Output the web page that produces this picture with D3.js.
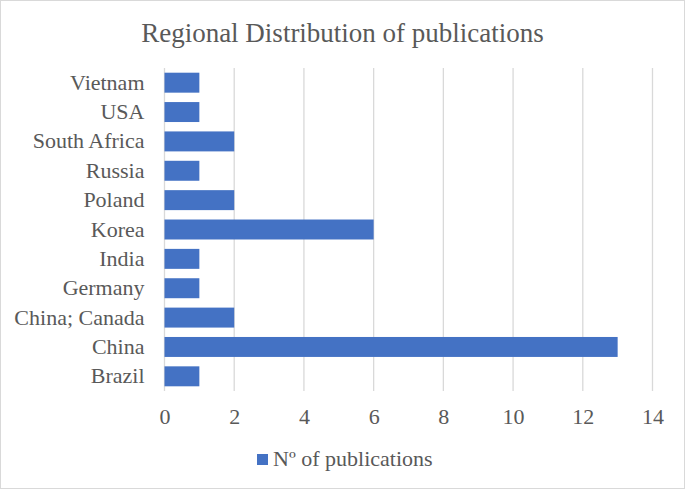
<!DOCTYPE html>
<html>
<head>
<meta charset="utf-8">
<script src="https://cdn.jsdelivr.net/npm/d3@7"></script>
<style>
body{margin:0;background:#fff;}
svg text{font-family:"Liberation Serif","Times New Roman",Times,serif !important;fill:#595959;}
</style>
</head>
<body>
<svg id="Viz"></svg>
<script>
// data, top to bottom as shown
let countries=["Vietnam","USA","South Africa","Russia","Poland","Korea","India","Germany","China; Canada","China","Brazil"];
let pubs=[1,1,2,1,2,6,1,1,2,13,1];
let xTicks=[0,2,4,6,8,10,12,14];
let seriesName="N\u00BA of publications";

let Width=685, Height=489;
let margin={top:68, right:32, bottom:98, left:164.5};

let vizArea=d3.select('#Viz')
.attr("width", Width)
.attr("height", Height);

// outer border
vizArea.append("rect")
.attr("x",0.5).attr("y",0.5)
.attr("width",Width-1).attr("height",Height-1)
.attr("fill","#fff")
.attr("stroke","#d9d9d9");

vizArea.append("text")
.attr("x", Width/2)
.attr("y", 42)
.attr("text-anchor","middle")
.style("font-size","27px")
.text("Regional Distribution of publications");

let xScale=d3.scaleLinear().domain([0,14]).range([margin.left, 652.5]);
let yScale=d3.scaleBand().domain(countries).range([margin.top, 391]).paddingInner(0.32).paddingOuter(0.16);

// gridlines
vizArea.append("g")
.selectAll("line")
.data(xTicks)
.enter()
.append("line")
.attr("x1", d=>xScale(d)).attr("x2", d=>xScale(d))
.attr("y1", margin.top).attr("y2", 391)
.attr("stroke","#d9d9d9")
.attr("stroke-width",1.3);

// bars
vizArea.append("g")
.selectAll("rect")
.data(countries)
.enter()
.append("rect")
.attr("x", xScale(0))
.attr("y", d=>yScale(d))
.attr("width", (d,i)=>xScale(pubs[i])-xScale(0))
.attr("height", yScale.bandwidth())
.attr("fill","#4472C4");

// x axis
let xAxis=vizArea.append("g")
.attr("transform","translate(0,391)")
.call(d3.axisBottom(xScale).tickValues(xTicks).tickSize(0).tickPadding(17));
xAxis.select(".domain").remove();
xAxis.selectAll("text")
.attr("fill","#595959")
.style("font-size","22px");

// y axis
let yAxis=vizArea.append("g")
.attr("transform","translate("+margin.left+",0)")
.call(d3.axisLeft(yScale).tickSize(0).tickPadding(20));
yAxis.select(".domain").remove();
yAxis.selectAll("text")
.attr("fill","#595959")
.style("font-size","22px");

// legend
let legend=vizArea.append("g").attr("transform","translate(257,454)");
legend.append("rect")
.attr("width",11).attr("height",11)
.attr("fill","#4472C4");
legend.append("text")
.attr("x",16).attr("y",12)
.style("font-size","22px")
.text(seriesName);
</script>
</body>
</html>
